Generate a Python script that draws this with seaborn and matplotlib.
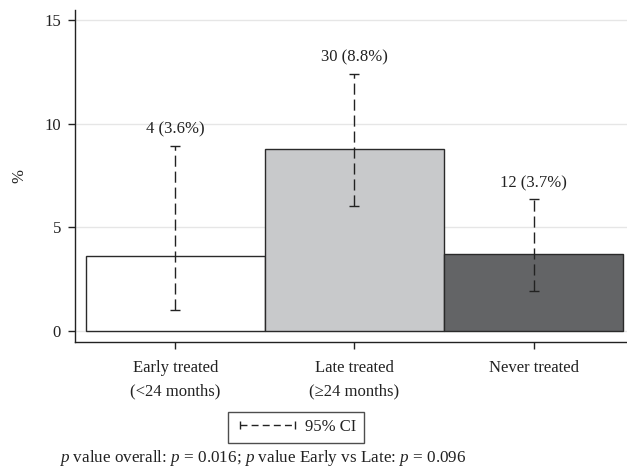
import matplotlib
matplotlib.use('Agg')
import matplotlib.pyplot as plt
from matplotlib.lines import Line2D
import seaborn as sns
import pandas as pd

# data
groups = ['Early treated\n(<24 months)', 'Late treated\n(≥24 months)', 'Never treated']
pct = [3.6, 8.8, 3.7]
ci_low = [1.0, 6.05, 1.93]
ci_high = [8.93, 12.4, 6.35]
bar_labels = ['4 (3.6%)', '30 (8.8%)', '12 (3.7%)']
colours = ['#ffffff', '#c8c9cb', '#636466']

df = pd.DataFrame({'group': groups, 'pct': pct})

sns.set_theme(style='white')
plt.rcParams['font.family'] = ['Liberation Serif', 'DejaVu Serif']
plt.rcParams['mathtext.fontset'] = 'custom'
plt.rcParams['mathtext.rm'] = 'Liberation Serif'
plt.rcParams['mathtext.it'] = 'Liberation Serif:italic'
txt = '#222222'
fs = 12
dash = (0, (8, 3.5))

fig = plt.figure(figsize=(6.27, 4.71), dpi=100)
ax = fig.add_axes([0.1196, 0.274, 0.88, 0.705])

sns.barplot(data=df, x='group', y='pct', hue='group', palette=colours,
            width=1.0, edgecolor='#2a2a2a', linewidth=1.0, legend=False, ax=ax,
            zorder=2)

# dashed 95% CI bars
for i in range(len(groups)):
    ax.errorbar(i, (ci_low[i] + ci_high[i]) / 2,
                yerr=(ci_high[i] - ci_low[i]) / 2,
                fmt='none', ecolor='#222222', elinewidth=1.0, capsize=3.5,
                capthick=1.0, zorder=3)
    ax.text(i, ci_high[i] + 0.4, bar_labels[i], ha='center', va='bottom',
            fontsize=fs, color=txt)

for coll in ax.collections:
    coll.set_linestyle(dash)

ax.set_ylim(-0.53, 15.5)
ax.set_xlim(-0.56, 2.52)
ax.set_yticks([0, 5, 10, 15])
ax.yaxis.grid(True, color='#e6e6e6', linewidth=1.0, zorder=0)
ax.set_axisbelow(True)
ax.set_xlabel('')
ax.set_ylabel('%', fontsize=fs, color=txt, labelpad=12)
ax.tick_params(axis='both', labelsize=fs, colors=txt, length=5, width=1,
               bottom=True, left=True, direction='out', pad=5)
ax.tick_params(axis='x', pad=8)
for lab in ax.get_xticklabels():
    lab.set_linespacing(1.6)
sns.despine(ax=ax)
for s in ['left', 'bottom']:
    ax.spines[s].set_color('#222222')
    ax.spines[s].set_linewidth(1.0)

handle = Line2D([0], [0], color='#222222', linestyle=(0, (5, 3)), linewidth=1.0,
                marker='|', markersize=6, markeredgewidth=1.0)
leg = fig.legend(handles=[handle], labels=['95% CI'], numpoints=2,
                 loc='center', bbox_to_anchor=(0.472, 0.093),
                 frameon=True, fancybox=False, edgecolor='#222222',
                 fontsize=fs, handlelength=3.9, handletextpad=0.3,
                 borderpad=0.45, borderaxespad=0)
leg.get_frame().set_linewidth(1.0)
for t in leg.get_texts():
    t.set_color(txt)

fig.text(0.094, 0.028, r'$p$ value overall: $p$ = 0.016; $p$ value Early vs Late: $p$ = 0.096',
         fontsize=12.3, color=txt, ha='left', va='center')

fig.savefig('out.png', dpi=100)
